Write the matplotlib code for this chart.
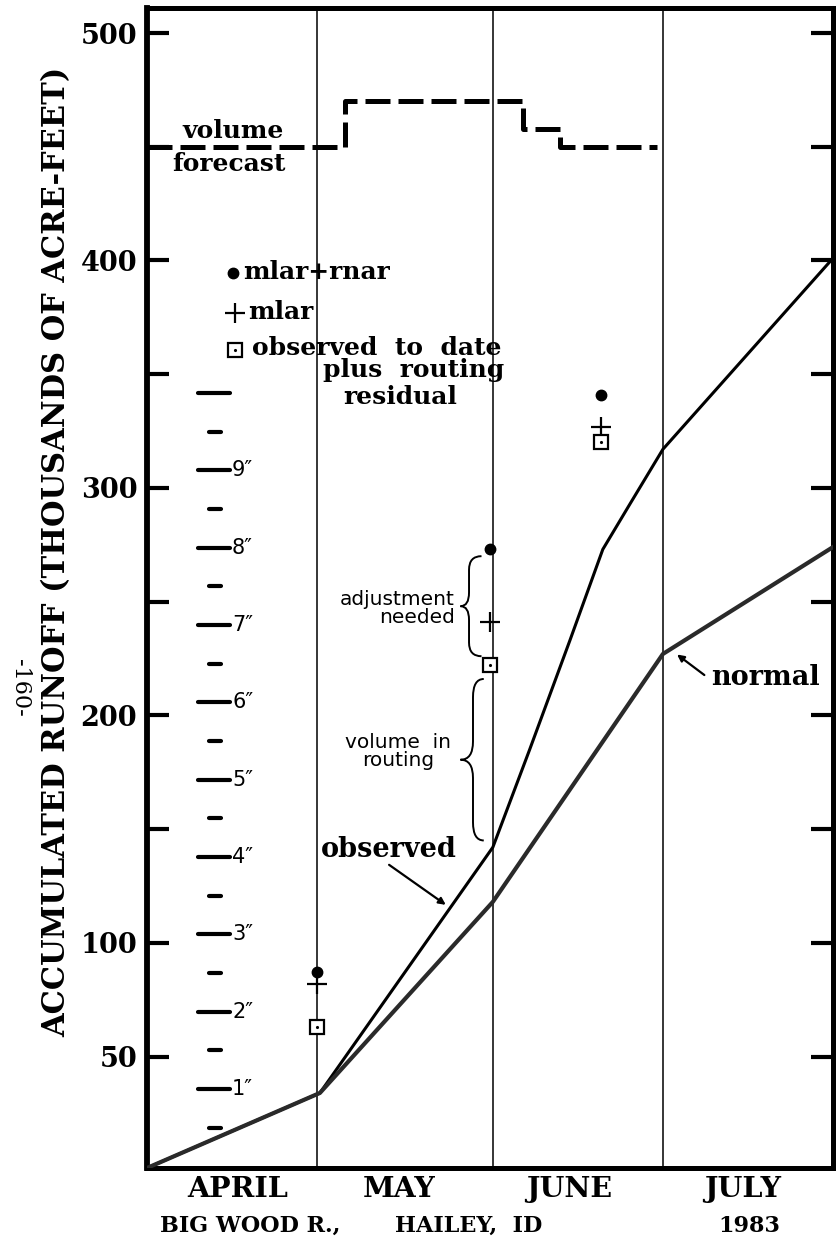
import numpy as np
import matplotlib

matplotlib.use('Agg')
import matplotlib.pyplot as plt
from matplotlib.path import Path
from matplotlib.patches import PathPatch

# ------------------------------------------------------------
# data (x = days since April 1, y = thousands of acre-feet)
# ------------------------------------------------------------
month_ends = [30, 61, 91]
month_names = ['APRIL', 'MAY', 'JUNE', 'JULY']
month_label_pos = [16, 44.5, 74.5, 105]

obs_days = [0, 30.5, 61, 67.5, 74.6, 80.4, 85.2, 91, 121]
obs_vals = [1, 34, 142, 185, 233, 273, 293, 317, 401]

norm_days = [0, 30.5, 61, 91, 121]
norm_vals = [1, 34, 118, 227, 274]

fc_days = [0, 35, 66.3, 72.8, 90]
fc_vals = [450, 470, 458, 450, 450]

mark_days = [30, 60.5, 80]
mlar_rnar = [87, 273, 341]
mlar = [82, 241, 327]
obs_resid = [63, 222, 320]

ytick_vals = [50, 100, 150, 200, 250, 300, 350, 400, 450, 500]
ytick_text = ['50', '100', '', '200', '', '300', '', '400', '', '500']

# precipitation scale drawn inside the plot
precip_inches = [0.5, 1, 1.5, 2, 2.5, 3, 3.5, 4, 4.5, 5, 5.5, 6, 6.5,
                 7, 7.5, 8, 8.5, 9, 9.5, 10]
precip_labels = [1, 2, 3, 4, 5, 6, 7, 8, 9]
inch_to_kaf = 34.0
inch_zero = 1.8

SERIF = 'DejaVu Serif'
SANS = 'DejaVu Sans'

fig = plt.figure(figsize=(8.37, 12.47), dpi=100)
fig.patch.set_facecolor('white')
ax = fig.add_axes([147 / 837, 1 - 1168 / 1247, 686 / 837, 1160 / 1247])
ax.set_xlim(0, 121)
ax.set_ylim(1, 511)

for s in ax.spines.values():
    s.set_linewidth(3.6)
ax.spines['left'].set_linewidth(4.2)

# month separators
for d in month_ends:
    ax.axvline(d, color='black', lw=1.1, zorder=1)

# runoff curves
ax.plot(obs_days, obs_vals, color='black', lw=2.2, solid_joinstyle='round', zorder=3)
ax.plot(norm_days, norm_vals, color='#2a2a2a', lw=3.0, solid_joinstyle='round', zorder=3)

# volume forecast
ax.step(fc_days, fc_vals, where='post', color='black', lw=3.6,
        linestyle=(0, (5, 1.6)), zorder=3)

# forecast markers
ax.plot(mark_days, mlar_rnar, 'o', color='black', ms=7.5, zorder=4)
ax.plot(mark_days, mlar, '+', color='black', ms=15, mew=1.6, zorder=4)
ax.plot(mark_days, obs_resid, 's', mfc='white', mec='black', ms=9.5, mew=1.6, zorder=4)
ax.plot(mark_days, obs_resid, '.', color='black', ms=2.5, zorder=5)

# legend (hand placed as in the original)
ax.plot([15.2], [394.6], 'o', color='black', ms=7.5)
ax.plot([15.5], [377], '+', color='black', ms=15, mew=1.6)
ax.plot([15.5], [360.8], 's', mfc='white', mec='black', ms=9.5, mew=1.6)
ax.plot([15.5], [360.8], '.', color='black', ms=2.5)
leg_kw = dict(fontfamily=SERIF, fontweight='bold', fontsize=18, va='center')
ax.text(17.0, 395, 'mlar+rnar', ha='left', **leg_kw)
ax.text(17.9, 377.5, 'mlar', ha='left', **leg_kw)
ax.text(18.5, 361.5, 'observed  to  date', ha='left', **leg_kw)
ax.text(47.1, 352, 'plus  routing', ha='center', **leg_kw)
ax.text(44.6, 340, 'residual', ha='center', **leg_kw)

ax.text(15.2, 457, 'volume', ha='center', **leg_kw)
ax.text(14.5, 442.5, 'forecast', ha='center', **leg_kw)

# precipitation inches scale
for p in precip_inches:
    y = inch_zero + inch_to_kaf * p
    if p == int(p):
        ax.plot([9.0, 14.6], [y, y], color='black', lw=3.0, solid_capstyle='round')
    else:
        ax.plot([11.0, 13.0], [y, y], color='black', lw=3.0, solid_capstyle='round')
for p in precip_labels:
    y = inch_zero + inch_to_kaf * p
    ax.text(15.0, y, f'{p}\u2033', ha='left', va='center', fontfamily=SANS, fontsize=15)


# braces
def brace(x_tip, x_body, x_cusp, y_top, y_bot, d):
    y_mid = (y_top + y_bot) / 2
    verts = [(x_tip, y_top),
             (x_body, y_top), (x_body, y_top - d),
             (x_body, y_mid + d),
             (x_body, y_mid), (x_cusp, y_mid),
             (x_body, y_mid), (x_body, y_mid - d),
             (x_body, y_bot + d),
             (x_body, y_bot), (x_tip, y_bot)]
    codes = [Path.MOVETO,
             Path.CURVE3, Path.CURVE3,
             Path.LINETO,
             Path.CURVE3, Path.CURVE3,
             Path.CURVE3, Path.CURVE3,
             Path.LINETO,
             Path.CURVE3, Path.CURVE3]
    ax.add_patch(PathPatch(Path(verts, codes), fc='none', ec='black', lw=1.4))


brace(59.0, 56.8, 55.3, 270, 226, 6)
brace(59.4, 57.5, 55.3, 216, 145, 8)

note_kw = dict(fontfamily=SANS, fontsize=14.5, va='center', linespacing=0.95)
ax.text(54.3, 247, 'adjustment\nneeded', ha='right', multialignment='right', **note_kw)
ax.text(44.3, 184, 'volume  in\nrouting', ha='center', multialignment='center', **note_kw)

# curve labels
ax.text(42.7, 141, 'observed', ha='center', va='center', fontfamily=SERIF,
        fontweight='bold', fontsize=19.5)
ax.annotate('', xy=(53.1, 116), xytext=(42.3, 135),
            arrowprops=dict(arrowstyle='-|>', color='black', lw=1.6, mutation_scale=10))
ax.text(109, 216.5, 'normal', ha='center', va='center', fontfamily=SERIF,
        fontweight='bold', fontsize=19.5)
ax.annotate('', xy=(93.1, 227.5), xytext=(98.7, 217),
            arrowprops=dict(arrowstyle='-|>', color='black', lw=1.6, mutation_scale=10))

# axes ticks
ax.set_yticks(ytick_vals)
ax.set_yticklabels(ytick_text, fontfamily=SERIF, fontweight='bold', fontsize=19.5)
ax.tick_params(axis='y', direction='in', length=16, width=3, pad=7,
               left=True, right=True, labelright=False)
ax.set_xticks(month_label_pos)
ax.set_xticklabels(month_names, fontfamily=SERIF, fontweight='bold', fontsize=20.5)
ax.tick_params(axis='x', length=0, pad=6)

ax.set_ylabel('ACCUMULATED RUNOFF (THOUSANDS OF ACRE-FEET)', fontfamily=SERIF,
              fontweight='bold', fontsize=22)
ax.yaxis.set_label_coords((72 - 147) / 686, (1168 - 552) / 1160)

# station title
title_kw = dict(fontfamily=SERIF, fontweight='bold', fontsize=16, va='center', ha='left')
fig.text(160 / 837, 1 - 1226 / 1247, 'BIG WOOD R.,', **title_kw)
fig.text(395 / 837, 1 - 1226 / 1247, 'HAILEY,  ID', **title_kw)
fig.text(718 / 837, 1 - 1226 / 1247, '1983', **title_kw)

# page number
fig.text(20 / 837, 1 - 688 / 1247, '-160-', rotation=-90, ha='center', va='center',
         fontfamily=SERIF, fontsize=16)

fig.savefig('out.png', dpi=100, facecolor='white')
